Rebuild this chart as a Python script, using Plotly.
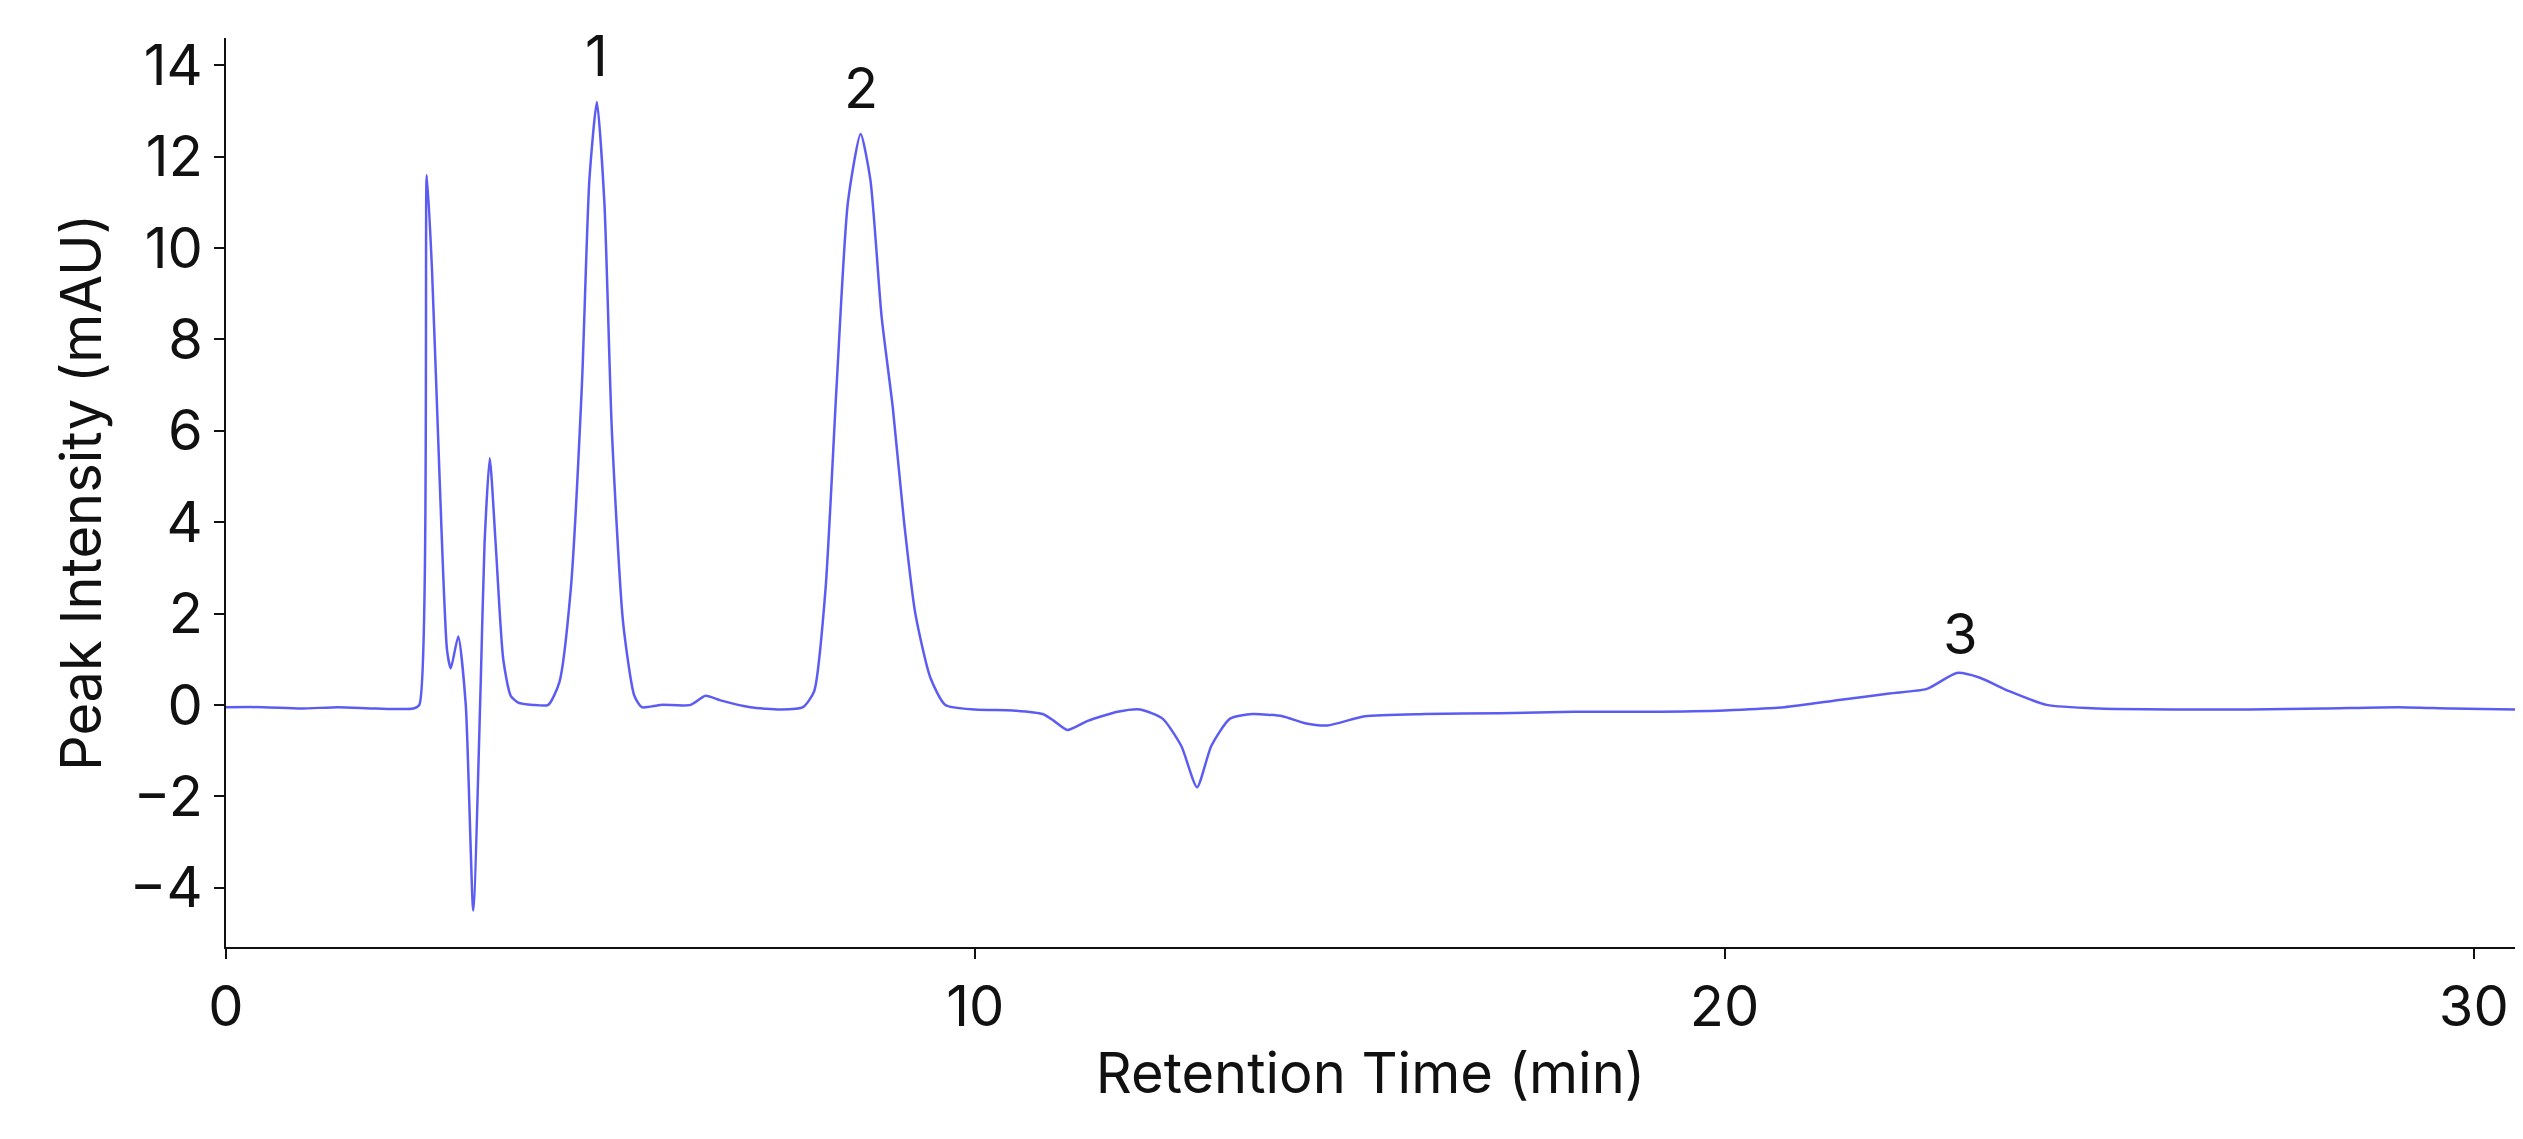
import plotly.graph_objects as go

time_min = [0, 0.5, 1.0, 1.5, 2.0, 2.5, 2.58, 2.68, 2.75, 2.85, 2.95, 3.0, 3.1, 3.2, 3.3, 3.4, 3.45, 3.52, 3.6, 3.7, 3.8, 3.9, 4.1, 4.3, 4.45, 4.6, 4.75, 4.85, 4.95, 5.05, 5.15, 5.3, 5.45, 5.55, 5.8, 6.2, 6.4, 6.6, 7.0, 7.4, 7.7, 7.85, 8.0, 8.15, 8.3, 8.47, 8.6, 8.75, 8.9, 9.05, 9.2, 9.4, 9.6, 10.0, 10.5, 10.9, 11.05, 11.23, 11.5, 11.9, 12.2, 12.5, 12.75, 12.96, 13.15, 13.4, 13.7, 14.1, 14.4, 14.7, 15.2, 16.0, 17.0, 18.0, 19.0, 20.0, 20.8, 21.5, 22.2, 22.7, 23.1, 23.4, 23.8, 24.3, 25.0, 26.0, 27.0, 28.0, 29.0, 29.7, 30.55]
intensity = [-0.05, -0.05, -0.08, -0.05, -0.08, -0.08, 0.0, 11.6, 9.5, 5.0, 1.2, 0.8, 1.5, 0.0, -4.5, 0.5, 3.5, 5.4, 3.5, 1.0, 0.2, 0.05, 0.0, 0.0, 0.5, 2.5, 7.0, 11.5, 13.2, 11.0, 6.0, 1.8, 0.2, -0.05, 0.0, 0.0, 0.2, 0.1, -0.05, -0.1, -0.05, 0.3, 2.5, 7.0, 11.0, 12.5, 11.5, 8.5, 6.5, 4.0, 2.0, 0.6, 0.0, -0.1, -0.12, -0.2, -0.35, -0.55, -0.35, -0.15, -0.1, -0.3, -0.9, -1.8, -0.9, -0.3, -0.2, -0.25, -0.4, -0.45, -0.25, -0.2, -0.18, -0.15, -0.15, -0.12, -0.05, 0.1, 0.25, 0.35, 0.7, 0.6, 0.3, 0.0, -0.08, -0.1, -0.1, -0.08, -0.05, -0.08, -0.1]

peak_labels = ["1", "2", "3"]
peak_x = [4.95, 8.47, 23.15]
peak_y = [14.2, 13.5, 1.55]

fig = go.Figure()
fig.add_trace(go.Scatter(x=time_min, y=intensity, mode="lines",
                         line=dict(color="#5c5cf2", width=2.5, shape="spline", smoothing=0.6),
                         showlegend=False))
for t, xx, yy in zip(peak_labels, peak_x, peak_y):
    fig.add_annotation(x=xx, y=yy, text=t, showarrow=False,
                       font=dict(size=56, color="#111", family="Inter"))

tf = dict(size=56, color="#111", family="Inter")
axis_common = dict(showgrid=False, zeroline=False, showline=True, linecolor="#111",
                   linewidth=2, ticks="outside", ticklen=10, tickwidth=2, tickcolor="#111",
                   tickfont=tf)
fig.update_xaxes(range=[0, 30.55], tickvals=[0, 10, 20, 30],
                 title=dict(text="Retention Time (min)", font=tf, standoff=15),
                 **axis_common)
fig.update_yaxes(range=[-5.3, 14.6], tickvals=list(range(-4, 15, 2)),
                 title=dict(text="Peak Intensity (mAU)", font=tf, standoff=10),
                 **axis_common)
fig.update_layout(width=2523, height=1139, plot_bgcolor="white", paper_bgcolor="white",
                  margin=dict(l=218, r=16, t=30, b=200), font=dict(family="Inter"))
fig.write_html("out.html")
